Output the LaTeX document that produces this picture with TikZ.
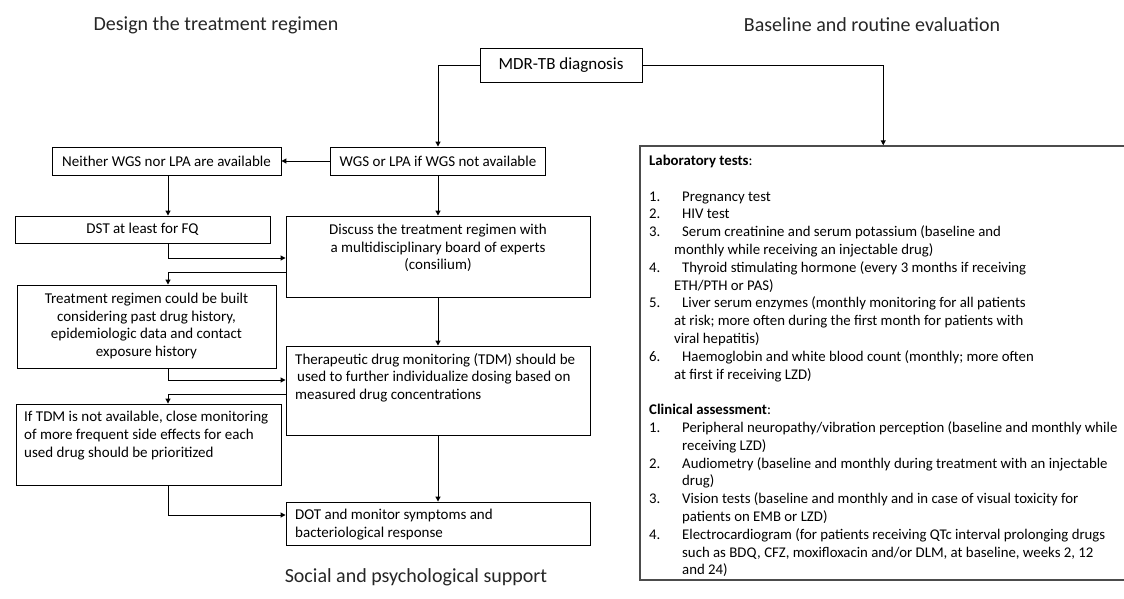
\documentclass[tikz,border=0pt]{standalone}
\usepackage{fontspec}
\setmainfont{Carlito}
\usetikzlibrary{arrows.meta}
\newcommand\labnum[1]{\makebox[33pt][l]{#1}}
\newcommand\labcont{\hspace*{25pt}}
\newcommand\clinum[1]{\makebox[33pt][l]{#1}}
\newcommand\clicont{\hspace*{33pt}}
\begin{document}
\begin{tikzpicture}[x=1pt,y=-1pt,
  box/.style={draw=black, line width=0.9pt, inner sep=0pt, font=\fontsize{15}{17.7}\selectfont},
  txt/.style={inner sep=0pt, font=\fontsize{15}{17.7}\selectfont},
  rtxt/.style={inner sep=0pt, align=left, font=\fontsize{14.8}{17.8}\selectfont},
  conn/.style={line width=1pt, -{Triangle[length=5pt,width=5pt]}},
  ttl/.style={inner sep=0pt, font=\fontsize{20}{24}\selectfont, text=black!85}]
\clip (0,0) rectangle (1124,598);
\fill[white] (0,0) rectangle (1124,598);
\coordinate (cx) at (168,0);

% titles
\node[ttl] (t1) at (216,25) {Design the treatment regimen};
\node[ttl] (t2) at (872,25) {Baseline and routine evaluation};
\node[ttl] (t3) at (416,577) {Social and psychological support};

% left flow boxes
\node[box, minimum width=162pt, minimum height=34pt, font=\fontsize{17}{20}\selectfont] (mdr) at (561,65) {MDR-TB diagnosis};
\node[box, minimum width=215pt, minimum height=28pt] (wgs) at (438,161) {WGS or LPA if WGS not available};
\node[box, minimum width=229pt, minimum height=28pt] (neither) at (166.5,161) {Neither WGS nor LPA are available};
\node[box, minimum width=255pt, minimum height=27pt] (dst) at (142.5,229.5) {DST at least for FQ};

\node[box, minimum width=304pt, minimum height=81pt] (discuss) at (438,256.5) {};
\node[txt, align=center] (discusst) at (438,248) {Discuss the treatment regimen with\\a multidisciplinary board of experts\\(consilium)};

\node[box, minimum width=259pt, minimum height=83pt] (treat) at (146.5,326.5) {};
\node[txt, align=center] (treatt) at (146.5,326) {Treatment regimen could be built\\considering past drug history,\\epidemiologic data and contact\\exposure history};

\node[box, minimum width=304pt, minimum height=89pt] (tdm) at (438,390.5) {};
\node[txt, align=left, anchor=north west] (tdmt) at (295,353) {Therapeutic drug monitoring (TDM) should be\\\hspace*{2pt}used to further individualize dosing based on\\measured drug concentrations};

\node[box, minimum width=265pt, minimum height=81pt] (iftdm) at (148.5,444.5) {};
\node[txt, align=left, anchor=north west] (iftdmt) at (24,411) {If TDM is not available, close monitoring\\of more frequent side effects for each\\used drug should be prioritized};

\node[box, minimum width=304pt, minimum height=43pt] (dot) at (438,523.5) {};
\node[txt, align=left, anchor=north west] (dott) at (295,509) {DOT and monitor symptoms and\\bacteriological response};

% right box
\node[draw=black!70, line width=1.5pt, minimum width=500pt, minimum height=434pt, inner sep=0pt] (lab) at (890,363) {};
\node[rtxt, anchor=north west] (labt) at (649,155) {%
\textbf{Laboratory tests}:\\[17.8pt]
\labnum{1.}Pregnancy test\\
\labnum{2.}HIV test\\
\labnum{3.}Serum creatinine and serum potassium (baseline and\\
\labcont monthly while receiving an injectable drug)\\
\labnum{4.}Thyroid stimulating hormone (every 3 months if receiving\\
\labcont ETH/PTH or PAS)\\
\labnum{5.}Liver serum enzymes (monthly monitoring for all patients\\
\labcont at risk; more often during the first month for patients with\\
\labcont viral hepatitis)\\
\labnum{6.}Haemoglobin and white blood count (monthly; more often\\
\labcont at first if receiving LZD)\\[17.8pt]
\textbf{Clinical assessment}:\\
\clinum{1.}Peripheral neuropathy/vibration perception (baseline and monthly while\\
\clicont receiving LZD)\\
\clinum{2.}Audiometry (baseline and monthly during treatment with an injectable\\
\clicont drug)\\
\clinum{3.}Vision tests (baseline and monthly and in case of visual toxicity for\\
\clicont patients on EMB or LZD)\\
\clinum{4.}Electrocardiogram (for patients receiving QTc interval prolonging drugs\\
\clicont such as BDQ, CFZ, moxifloxacin and/or DLM, at baseline, weeks 2, 12\\
\clicont and 24)};

% connectors
\draw[conn] (mdr.west) -| (wgs.north);
\draw[conn] (mdr.east) -| ([xshift=244pt]lab.north west);
\draw[conn] (wgs.west) -- (neither.east);
\draw[conn] (neither.south -| cx) -- (dst.north -| cx);
\draw[conn] (wgs.south) -- (discuss.north);
\draw[conn] (dst.south -| cx) |- ([yshift=-1.5pt]discuss.west);
\draw[conn] ([yshift=-15.5pt]discuss.west) -| (treat.north -| cx);
\draw[conn] (discuss.south) -- (tdm.north);
\draw[conn] (treat.south -| cx) |- ([yshift=10.5pt]tdm.west);
\draw[conn] ([yshift=-3.5pt]tdm.west) -| (iftdm.north -| cx);
\draw[conn] (tdm.south) -- (dot.north);
\draw[conn] (iftdm.south -| cx) |- ([yshift=8.5pt]dot.west);
\end{tikzpicture}
\end{document}
